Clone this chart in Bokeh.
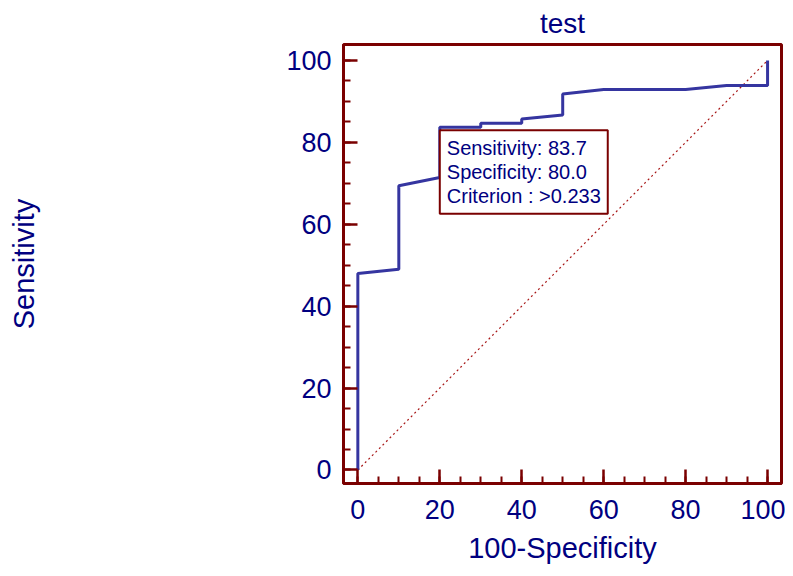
from bokeh.plotting import figure
from bokeh.models import Range1d, FixedTicker, Label
from bokeh.embed import file_html
from bokeh.resources import INLINE

# ROC curve data (100-Specificity vs Sensitivity)
fpr = [0, 0, 10, 10, 20, 20, 30, 30, 40, 40, 50, 50, 60, 80, 90, 100, 100]
sens = [0, 48.0, 49.0, 69.4, 71.4, 83.7, 83.7, 84.7, 84.7, 85.7, 86.7, 91.8, 92.9, 92.9, 93.9, 93.9, 100]
ref_x = [0, 100]
ref_y = [0, 100]
major_ticks = [0, 20, 40, 60, 80, 100]
minor_ticks = list(range(0, 101, 5))
crit_x = 20.0
crit_y = 83.7
crit_text = "Sensitivity: 83.7\nSpecificity: 80.0\nCriterion : >0.233"

NAVY = "#000080"
MAROON = "#7a0000"
DIAG = "#a81818"
CURVE = "#3535a0"
FONT = "Liberation Sans"

p = figure(width=777, height=560, output_backend="svg", toolbar_location=None,
           x_range=Range1d(-3.5, 103.4), y_range=Range1d(-3.3, 103.9),
           min_border_left=343, min_border_right=4, min_border_top=44, min_border_bottom=40,
           title="test")
p.frame_width = 438
p.frame_height = 439

p.title.align = "center"
p.title.text_font = FONT
p.title.text_font_size = "28px"
p.title.text_font_style = "normal"
p.title.text_color = NAVY
p.title.standoff = 11

p.xgrid.visible = False
p.ygrid.visible = False
p.background_fill_color = "white"
p.border_fill_color = "white"
p.outline_line_color = MAROON
p.outline_line_width = 3

for ax in (p.xaxis[0], p.yaxis[0]):
    ax.ticker = FixedTicker(ticks=major_ticks, minor_ticks=minor_ticks)
    ax.axis_line_color = MAROON
    ax.axis_line_width = 3
    ax.major_tick_in = 14
    ax.major_tick_out = 0
    ax.minor_tick_in = 7
    ax.minor_tick_out = 0
    ax.major_tick_line_color = MAROON
    ax.major_tick_line_width = 2.5
    ax.minor_tick_line_color = MAROON
    ax.minor_tick_line_width = 2
    ax.major_label_text_font = FONT
    ax.major_label_text_font_size = "27px"
    ax.major_label_text_color = NAVY
    ax.axis_label_text_font = FONT
    ax.axis_label_text_font_size = "29px"
    ax.axis_label_text_font_style = "normal"
    ax.axis_label_text_color = NAVY

p.xaxis.axis_label = "100-Specificity"
p.yaxis.axis_label = "Sensitivity"
p.xaxis.major_label_standoff = 16
p.yaxis.major_label_standoff = 12
p.xaxis.axis_label_standoff = 10
p.yaxis.axis_label_standoff = 243

p.line(ref_x, ref_y, line_color=DIAG, line_width=1.2, line_dash="2 3")
p.line(fpr, sens, line_color=CURVE, line_width=3)

lab = Label(x=crit_x, y=crit_y, y_offset=-3, text=crit_text, text_align="left", text_baseline="top",
            text_font=FONT, text_font_size="20px", text_color=NAVY, text_line_height=1.08,
            background_fill_color="white", border_line_color=MAROON, border_line_width=2,
            padding=7)
p.add_layout(lab)

open("out.html", "w").write(file_html(p, INLINE))
